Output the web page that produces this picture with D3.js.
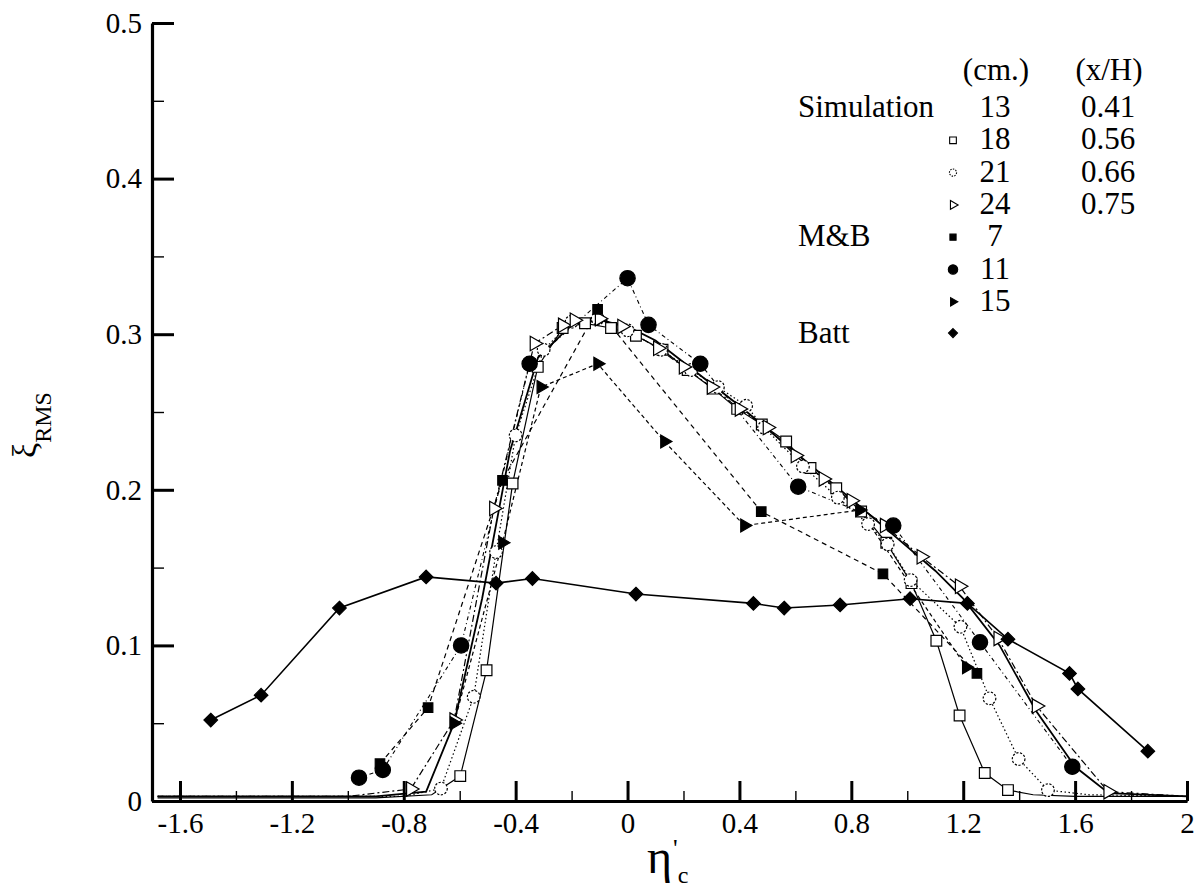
<!DOCTYPE html>
<html>
<head>
<meta charset="utf-8">
<script src="https://cdn.jsdelivr.net/npm/d3@7"></script>
<style>
  html, body { margin: 0; padding: 0; background: #fff; }
  svg { display: block; }
</style>
</head>
<body>
<svg id="chart" width="1199" height="888"></svg>
<script>
// ---- Simulation profiles (x = eta_c, y = xi_RMS) ----
const sim13X = [-1.68, -0.9, -0.72, -0.62, -0.52, -0.42, -0.32, -0.2, -0.1, 0.0, 0.1, 0.2, 0.4, 0.6, 0.8, 0.97, 1.1, 1.2, 1.33, 1.46, 1.6, 1.72, 2.0];
const sim13Y = [0.003, 0.003, 0.006, 0.05, 0.13, 0.225, 0.285, 0.306, 0.309, 0.305, 0.296, 0.282, 0.254, 0.224, 0.194, 0.168, 0.148, 0.13, 0.1, 0.058, 0.022, 0.005, 0.003];

const sim18X = [-1.68, -1.3, -0.9, -0.7, -0.598, -0.504, -0.411, -0.321, -0.232, -0.152, -0.059, 0.03, 0.125, 0.215, 0.305, 0.392, 0.48, 0.567, 0.654, 0.746, 0.835, 0.925, 1.015, 1.104, 1.187, 1.277, 1.36, 1.45, 1.6, 2.0];
const sim18Y = [0.002, 0.002, 0.002, 0.004, 0.016, 0.084, 0.204, 0.279, 0.304, 0.307, 0.304, 0.299, 0.290, 0.277, 0.265, 0.252, 0.242, 0.231, 0.214, 0.201, 0.186, 0.166, 0.14, 0.103, 0.055, 0.018, 0.007, 0.004, 0.003, 0.003];

const sim21X = [-1.68, -1.1, -0.8, -0.667, -0.55, -0.47, -0.40, -0.30, -0.2, -0.107, 0.0, 0.12, 0.227, 0.323, 0.424, 0.488, 0.627, 0.752, 0.86, 0.93, 1.012, 1.19, 1.294, 1.398, 1.503, 1.65, 2.0];
const sim21Y = [0.003, 0.003, 0.003, 0.008, 0.067, 0.16, 0.235, 0.29, 0.308, 0.31, 0.3025, 0.29, 0.277, 0.266, 0.254, 0.24, 0.215, 0.195, 0.178, 0.165, 0.142, 0.112, 0.066, 0.027, 0.007, 0.004, 0.003];

const sim24X = [-1.68, -1.0, -0.775, -0.62, -0.478, -0.333, -0.232, -0.19, -0.1, -0.02, 0.108, 0.2, 0.3, 0.4, 0.5, 0.6, 0.7, 0.8, 0.919, 1.05, 1.187, 1.325, 1.462, 1.718, 2.0];
const sim24Y = [0.003, 0.003, 0.0077, 0.052, 0.188, 0.294, 0.3057, 0.309, 0.310, 0.305, 0.291, 0.279, 0.266, 0.252, 0.240, 0.222, 0.207, 0.193, 0.177, 0.157, 0.138, 0.1045, 0.061, 0.006, 0.003];

// ---- M&B measurements ----
const mb7X = [-0.885, -0.713, -0.447, -0.107, 0.478, 0.913, 1.249];
const mb7Y = [0.024, 0.060, 0.206, 0.316, 0.186, 0.146, 0.082];

const mb11X = [-0.96, -0.875, -0.595, -0.35, 0.0, 0.075, 0.26, 0.61, 0.95, 1.26, 1.59];
const mb11Y = [0.015, 0.020, 0.100, 0.281, 0.336, 0.306, 0.281, 0.202, 0.177, 0.102, 0.022];

const mb15X = [-0.62, -0.447, -0.31, -0.107, 0.132, 0.418, 0.83, 1.211];
const mb15Y = [0.050, 0.166, 0.266, 0.281, 0.231, 0.177, 0.187, 0.086];

// ---- Batt measurements ----
const battX = [-1.49, -1.31, -1.03, -0.72, -0.47, -0.34, 0.03, 0.45, 0.56, 0.76, 1.01, 1.215, 1.36, 1.58, 1.61, 1.86];
const battY = [0.052, 0.068, 0.124, 0.144, 0.140, 0.143, 0.133, 0.127, 0.124, 0.126, 0.130, 0.127, 0.104, 0.082, 0.072, 0.032];

// ---- Axis ticks ----
const xMajorTicks = [-1.6, -1.2, -0.8, -0.4, 0, 0.4, 0.8, 1.2, 1.6, 2];
const xMinorTicks = [-1.4, -1.0, -0.6, -0.2, 0.2, 0.6, 1.0, 1.4, 1.8];
const yMajorTicks = [0, 0.1, 0.2, 0.3, 0.4, 0.5];
const yMinorTicks = [0.05, 0.15, 0.25, 0.35, 0.45];

// ---- Legend contents ----
const legendGroups = ["Simulation", "", "", "", "M&B", "", "", "Batt"];
const legendCm = ["13", "18", "21", "24", "7", "11", "15", ""];
const legendXH = ["0.41", "0.56", "0.66", "0.75", "", "", "", ""];

const SERIF = "'Liberation Serif', 'Times New Roman', 'DejaVu Serif', serif";

const svg = d3.select("#chart");
const x = d3.scaleLinear().domain([-1.7, 2]).range([152, 1187]);
const y = d3.scaleLinear().domain([0, 0.5]).range([801, 23]);

const fmt = d => String(+(+d).toFixed(2));

// symbol makers
const sym = (type, size) => d3.symbol().type(type).size(size)();
const markers = {
  square:  { path: s => sym(d3.symbolSquare, s), fill: "#fff", rot: 0, dash: null },
  circle:  { path: s => sym(d3.symbolCircle, s), fill: "#fff", rot: 0, dash: "2.2,1.6" },
  tri:     { path: s => sym(d3.symbolTriangle, s), fill: "#fff", rot: 90, dash: null },
  fsquare: { path: s => sym(d3.symbolSquare, s), fill: "#000", rot: 0, dash: null },
  fcircle: { path: s => sym(d3.symbolCircle, s), fill: "#000", rot: 0, dash: null },
  ftri:    { path: s => sym(d3.symbolTriangle, s), fill: "#000", rot: 90, dash: null },
  diamond: { path: s => sym(d3.symbolDiamond2, s), fill: "#000", rot: 0, dash: null }
};

const series = [
  { xs: sim13X, ys: sim13Y, marker: null, width: 1.8, dash: null },
  { xs: sim18X, ys: sim18Y, marker: "square", size: 115, width: 1.2, dash: null },
  { xs: sim21X, ys: sim21Y, marker: "circle", size: 125, width: 1.2, dash: "1.5,2.5" },
  { xs: sim24X, ys: sim24Y, marker: "tri", size: 90, width: 1.2, dash: "7,3,2,3" },
  { xs: mb7X, ys: mb7Y, marker: "fsquare", size: 90, width: 1.2, dash: "5,4" },
  { xs: mb11X, ys: mb11Y, marker: "fcircle", size: 185, width: 1.1, dash: "4,3,1,3" },
  { xs: mb15X, ys: mb15Y, marker: "ftri", size: 72, width: 1.2, dash: "4,3" },
  { xs: battX, ys: battY, marker: "diamond", size: 118, width: 1.6, dash: null }
];

const line = d3.line().x(d => x(d[0])).y(d => y(d[1]));
const plot = svg.append("g");

series.forEach(s => {
  const pts = s.xs.map((v, i) => [v, s.ys[i]]);
  plot.append("path")
    .attr("d", line(pts))
    .attr("fill", "none")
    .attr("stroke", "#000")
    .attr("stroke-width", s.width)
    .attr("stroke-dasharray", s.dash);
});

series.forEach(s => {
  if (!s.marker) return;
  const m = markers[s.marker];
  const pts = s.xs.map((v, i) => [v, s.ys[i]]).filter(p => p[1] >= 0.005);
  plot.selectAll(null).data(pts).enter().append("path")
    .attr("d", m.path(s.size))
    .attr("transform", d => `translate(${x(d[0])},${y(d[1])}) rotate(${m.rot})`)
    .attr("fill", m.fill)
    .attr("stroke", "#000")
    .attr("stroke-width", 1.2)
    .attr("stroke-dasharray", m.dash);
});

// ---- Axes ----
const axisFont = 29;
const gx = svg.append("g").attr("transform", `translate(0,${y(0)})`);
gx.call(d3.axisBottom(x).tickValues(xMinorTicks).tickSize(-10).tickSizeOuter(0).tickFormat(""));
gx.selectAll(".tick line").attr("stroke-width", 1.4);
const gx2 = svg.append("g").attr("transform", `translate(0,${y(0)})`);
gx2.call(d3.axisBottom(x).tickValues(xMajorTicks).tickSize(-20).tickSizeOuter(0).tickPadding(11).tickFormat(fmt));
gx2.selectAll(".tick line").attr("stroke-width", 3);
gx2.selectAll(".tick text").style("font-size", axisFont + "px");
gx2.selectAll(".domain").attr("stroke-width", 3.2);

const gy = svg.append("g").attr("transform", `translate(${x(-1.7)},0)`);
gy.call(d3.axisLeft(y).tickValues(yMinorTicks).tickSize(-12).tickSizeOuter(0).tickFormat(""));
gy.selectAll(".tick line").attr("stroke-width", 1.4);
const gy2 = svg.append("g").attr("transform", `translate(${x(-1.7)},0)`);
gy2.call(d3.axisLeft(y).tickValues(yMajorTicks).tickSize(-22).tickSizeOuter(0).tickPadding(10).tickFormat(fmt));
gy2.selectAll(".tick line").attr("stroke-width", 3);
gy2.selectAll(".tick text").style("font-size", axisFont + "px");
gy2.selectAll(".domain").attr("stroke-width", 3.2);
svg.selectAll(".domain").attr("stroke", "#000");

// ---- Axis titles ----
// eta, a raised prime, then the subscript c
const xt = svg.append("text").attr("x", 647).attr("y", 873);
xt.append("tspan").style("font-size", "48px").text("η");
xt.append("tspan").style("font-size", "26px").attr("dx", 1).attr("dy", -16).text("'");
xt.append("tspan").style("font-size", "24px").attr("dy", 26).text("c");

const yt = svg.append("text").attr("transform", "translate(36,458) rotate(-90)");
yt.append("tspan").style("font-size", "34px").text("ξ");
yt.append("tspan").style("font-size", "24px").attr("dy", 15).text("RMS");

// ---- Legend ----
const legendSymbols = [null, "square", "circle", "tri", "fsquare", "fcircle", "ftri", "diamond"];
const legendSizes = [0, 45, 40, 34, 38, 70, 30, 52];
const rowY = i => 117 + i * 32.3;
const lg = svg.append("g");
lg.append("text").attr("x", 996).attr("y", 80).attr("text-anchor", "middle").text("(cm.)");
lg.append("text").attr("x", 1109).attr("y", 80).attr("text-anchor", "middle").text("(x/H)");
legendGroups.forEach((g, i) => {
  if (g) lg.append("text").attr("x", 798).attr("y", rowY(i)).text(g);
  if (legendCm[i]) lg.append("text").attr("x", 995).attr("y", rowY(i)).attr("text-anchor", "middle").text(legendCm[i]);
  if (legendXH[i]) lg.append("text").attr("x", 1108).attr("y", rowY(i)).attr("text-anchor", "middle").text(legendXH[i]);
  const k = legendSymbols[i];
  if (k) {
    const m = markers[k];
    const yy = rowY(i) - (k === "diamond" ? 10 : 9);
    lg.append("path")
      .attr("d", m.path(legendSizes[i]))
      .attr("transform", `translate(953,${yy}) rotate(${m.rot})`)
      .attr("fill", m.fill)
      .attr("stroke", "#000")
      .attr("stroke-width", 1.1)
      .attr("stroke-dasharray", m.dash ? "1.5,1.2" : null);
  }
});
lg.selectAll("text").style("font-size", "31px");

// serif face for every label
svg.selectAll("text").style("font-family", SERIF).style("fill", "#000");
</script>
</body>
</html>
